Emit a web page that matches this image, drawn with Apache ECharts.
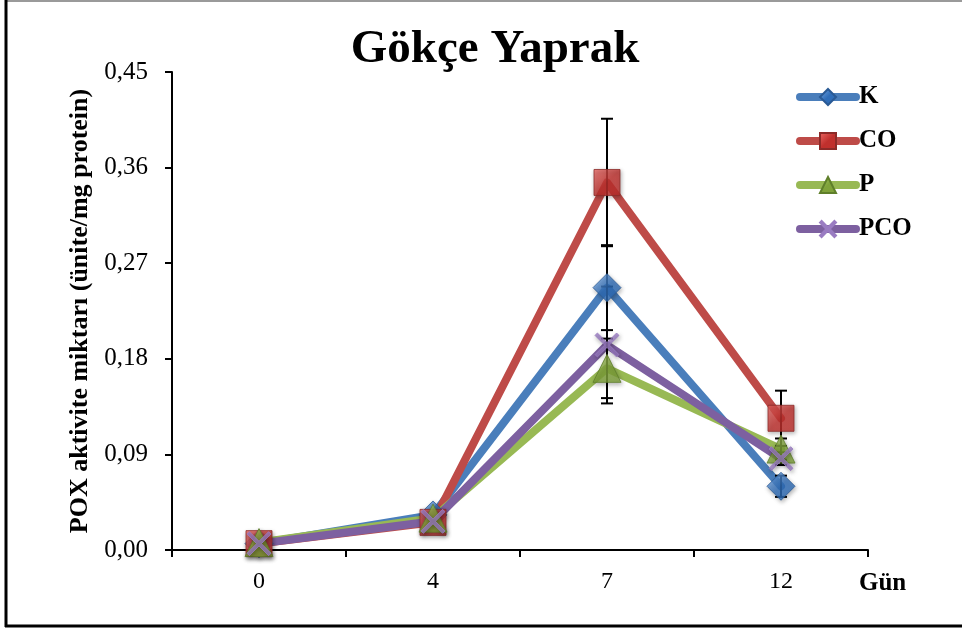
<!DOCTYPE html>
<html>
<head>
<meta charset="utf-8">
<script src="https://cdn.jsdelivr.net/npm/echarts@6/dist/echarts.min.js"></script>
<style>html,body{margin:0;padding:0;background:#fff}#c{width:962px;height:632px}</style>
</head>
<body>
<div id="c"></div>
<script>
const days = ['0', '4', '7', '12'];
const yTicks = [0, 0.09, 0.18, 0.27, 0.36, 0.45];
const K = [0.006, 0.033, 0.247, 0.060];
const CO = [0.006, 0.026, 0.346, 0.124];
const P = [0.007, 0.030, 0.171, 0.095];
const PCO = [0.006, 0.027, 0.193, 0.086];
const errK = [0.002, 0.003, 0.040, 0.010];
const errCO = [0.002, 0.003, 0.060, 0.026];
const errP = [0.002, 0.003, 0.028, 0.010];
const errPCO = [0.002, 0.003, 0.055, 0.006];

const FONT = 'Liberation Serif';
const crossPath = 'path://M0,1L1,0L5,4L9,0L10,1L6,5L10,9L9,10L5,6L1,10L0,9L4,5Z';

function grad(light, dark) {
  return {type: 'linear', x: 0, y: 0, x2: 1, y2: 1,
    colorStops: [{offset: 0, color: light}, {offset: 0.5, color: dark}, {offset: 1, color: dark}]};
}

const defs = [
  {name: 'K', data: K, err: errK, line: '#4A7EBB', symbol: 'diamond', size: 28,
   fill: grad('#7FB0EA', '#2F6DB8'), border: '#2A5A95'},
  {name: 'CO', data: CO, err: errCO, line: '#BE4B48', symbol: 'rect', size: 26,
   fill: grad('#EE6A66', '#C0302D'), border: '#8C2A28'},
  {name: 'P', data: P, err: errP, line: '#98B954', symbol: 'triangle', size: 28,
   fill: grad('#B5D56E', '#7FA23A'), border: '#5F7F2A'},
  {name: 'PCO', data: PCO, err: errPCO, line: '#7D60A0', symbol: crossPath, size: 24,
   fill: '#9A7CC2', border: '#9A7CC2'}
];

function errRender(params, api) {
  const x = api.value(0), y = api.value(1), e = api.value(2);
  const t = api.coord([x, y + e]);
  const b = api.coord([x, y - e]);
  const hw = 6;
  const st = {stroke: '#000', lineWidth: 2};
  return {type: 'group', children: [
    {type: 'line', shape: {x1: t[0], y1: t[1], x2: b[0], y2: b[1]}, style: st},
    {type: 'line', shape: {x1: t[0] - hw, y1: t[1], x2: t[0] + hw, y2: t[1]}, style: st},
    {type: 'line', shape: {x1: b[0] - hw, y1: b[1], x2: b[0] + hw, y2: b[1]}, style: st}
  ]};
}

const series = [];
defs.forEach(d => {
  series.push({
    name: d.name, type: 'line', data: d.data, z: 2,
    showSymbol: false, symbol: d.symbol, symbolSize: d.size,
    lineStyle: {color: d.line, width: 8, cap: 'round', join: 'round'},
    itemStyle: {color: d.fill, borderColor: d.border, borderWidth: 1},
    animation: false
  });
});
defs.forEach(d => {
  series.push({
    name: d.name + '_err', type: 'custom', z: 3, renderItem: errRender,
    data: d.data.map((v, i) => [i, v, d.err[i]]), animation: false, silent: true
  });
});
defs.forEach(d => {
  series.push({
    name: d.name, type: 'scatter', data: d.data, z: 4,
    symbol: d.symbol, symbolSize: d.size,
    itemStyle: {color: d.fill, borderColor: d.border, borderWidth: 1,
      shadowColor: 'rgba(0,0,0,0.35)', shadowBlur: 4, shadowOffsetX: 1, shadowOffsetY: 2},
    animation: false
  });
});

const chart = echarts.init(document.getElementById('c'));
chart.setOption({
  backgroundColor: '#fff',
  animation: false,
  title: {
    text: 'Gökçe Yaprak', left: 490, textAlign: 'center', top: 21,
    textStyle: {fontFamily: FONT, fontSize: 47, fontWeight: 'bold', color: '#000'}
  },
  legend: {
    data: defs.map(d => d.name), orient: 'vertical', left: 791, top: 79,
    itemWidth: 56, itemHeight: 20, itemGap: 18,
    lineStyle: {width: 8, cap: 'round'},
    textStyle: {fontFamily: FONT, fontSize: 25, fontWeight: 'bold', color: '#000', lineHeight: 26,
      padding: [0, 0, 0, -2]}
  },
  grid: {left: 172, right: 94, top: 72, bottom: 82},
  xAxis: {
    type: 'category', data: days, boundaryGap: true,
    name: 'Gün', nameLocation: 'end', nameGap: -9,
    nameTextStyle: {fontFamily: FONT, fontSize: 25, fontWeight: 'bold', color: '#000',
      align: 'left', verticalAlign: 'top', padding: [21, 0, 0, 0]},
    axisLine: {lineStyle: {color: '#000', width: 2}},
    axisTick: {show: true, inside: false, length: 7, alignWithLabel: false, lineStyle: {color: '#000', width: 2}},
    axisLabel: {fontFamily: FONT, fontSize: 24, color: '#000', margin: 20},
    splitLine: {show: false}
  },
  yAxis: {
    type: 'value', min: yTicks[0], max: yTicks[yTicks.length - 1], interval: yTicks[1] - yTicks[0],
    name: 'POX aktivite miktarı (ünite/mg protein)', nameLocation: 'middle', nameGap: 77,
    nameTextStyle: {fontFamily: FONT, fontSize: 26, fontWeight: 'bold', color: '#000'},
    axisLine: {show: true, lineStyle: {color: '#000', width: 2}},
    axisTick: {show: true, inside: false, length: 7, lineStyle: {color: '#000', width: 2}},
    axisLabel: {fontFamily: FONT, fontSize: 25, color: '#000', margin: 24,
      formatter: v => v.toFixed(2).replace('.', ',')},
    splitLine: {show: false}
  },
  graphic: [
    {type: 'line', shape: {x1: 6, y1: 1, x2: 962, y2: 1}, style: {stroke: '#9a9a9a', lineWidth: 2}, silent: true},
    {type: 'line', shape: {x1: 6, y1: 0, x2: 6, y2: 627}, style: {stroke: '#000', lineWidth: 3}, silent: true},
    {type: 'line', shape: {x1: 5, y1: 626, x2: 962, y2: 626}, style: {stroke: '#000', lineWidth: 3}, silent: true}
  ],
  series: series
});
</script>
</body>
</html>
